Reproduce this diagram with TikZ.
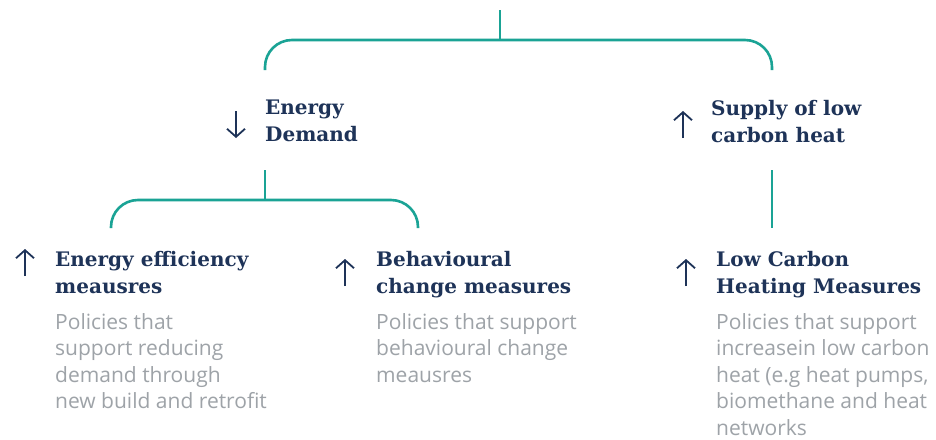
\documentclass[tikz,border=0pt]{standalone}
\usepackage{fontspec}
\setmainfont{Open Sans}
\newfontfamily\slab{DejaVu Serif}
\usetikzlibrary{arrows.meta}
\definecolor{lineteal}{HTML}{1AA395}
\definecolor{navy}{HTML}{1E3358}
\definecolor{bodygray}{HTML}{9EA3A8}
\tikzset{
  conn/.style={lineteal, line width=2.6pt},
  title/.style={font=\slab\bfseries\fontsize{20}{27}\selectfont, text=navy, align=left, inner sep=0pt, anchor=north west},
  body/.style={font=\fontsize{21}{26.5}\selectfont, text=bodygray, align=left, inner sep=0pt, anchor=north west},
  arr/.style={navy, line width=1.8pt, -{Straight Barb[length=8pt,width=18pt,line width=1.8pt]}}
}
\begin{document}
\begin{tikzpicture}[x=1pt,y=-1pt]
\useasboundingbox[fill=white] (0,0) rectangle (936,439);
% titles
\node[title] (ed) at (265,100) {Energy\\Demand};
\node[title] (sup) at (711,100) {Supply of low\\carbon heat};
\node[title] (ee) at (55,251) {Energy efficiency\\meausres};
\node[title] (bc) at (376,251) {Behavioural\\change measures};
\node[title] (lc) at (716,251) {Low Carbon\\Heating Measures};
% bodies
\node[body] (eeb) at (55,313) {Policies that\\support reducing\\demand through\\new build and retrofit};
\node[body] (bcb) at (376,313) {Policies that support\\behavioural change\\meausres};
\node[body] (lcb) at (716,313) {Policies that support\\increasein low carbon\\heat (e.g heat pumps,\\biomethane and heat\\networks};
% connector points
\coordinate (root) at (500,10);
\coordinate (j1) at (500,40);
\coordinate (edT) at (265,70);
\coordinate (supT) at (772,70);
\coordinate (edB) at (265,170);
\coordinate (j2) at (265,200);
\coordinate (eeT) at (111,228);
\coordinate (bcT) at (418,228);
\coordinate (supB) at (772,170);
\coordinate (lcT) at (772,228);
\draw[conn] (root) -- (j1);
\draw[conn, rounded corners=27pt] (edT) |- (j1) -| (supT);
\draw[conn] (edB) -- (j2);
\draw[conn, rounded corners=27pt] (eeT) |- (j2) -| (bcT);
\draw[conn] (supB) -- (lcT);
% arrows
\coordinate (a1s) at (236,111); \coordinate (a1e) at (236,138);
\coordinate (a2s) at (683,138); \coordinate (a2e) at (683,111);
\coordinate (a3s) at (25,276);  \coordinate (a3e) at (25,249);
\coordinate (a4s) at (345,286); \coordinate (a4e) at (345,259);
\coordinate (a5s) at (686,286); \coordinate (a5e) at (686,259);
\draw[arr] (a1s) -- (a1e);
\draw[arr] (a2s) -- (a2e);
\draw[arr] (a3s) -- (a3e);
\draw[arr] (a4s) -- (a4e);
\draw[arr] (a5s) -- (a5e);
\end{tikzpicture}
\end{document}
